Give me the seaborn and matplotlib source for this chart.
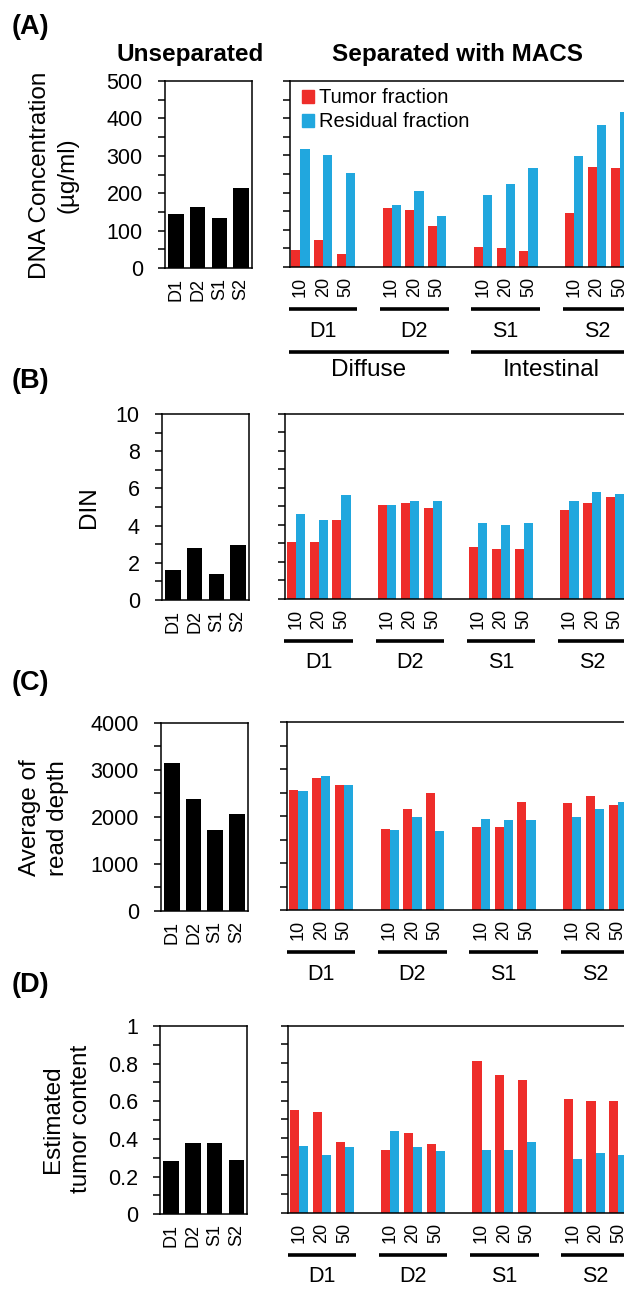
import numpy as np
import pandas as pd
import matplotlib
matplotlib.use('Agg')
import matplotlib.pyplot as plt
import seaborn as sns
from matplotlib.patches import Patch
from matplotlib.ticker import MultipleLocator, FuncFormatter
from matplotlib.transforms import offset_copy

W, H, DPI = 624, 1291, 100

# data
samples = ['D1', 'D2', 'S1', 'S2']
concentrations = ['10', '20', '50']
fractions = ['Tumor fraction', 'Residual fraction']

dna_unsep = [145, 163, 133, 213]
dna_tumor = [47, 73, 36, 158, 152, 110, 53, 52, 43, 146, 268, 267]
dna_resid = [317, 300, 254, 166, 204, 136, 193, 222, 266, 298, 382, 416]

din_unsep = [1.63, 2.81, 1.42, 2.97]
din_tumor = [3.08, 3.08, 4.29, 5.08, 5.19, 4.90, 2.79, 2.68, 2.68, 4.79, 5.19, 5.50]
din_resid = [4.59, 4.29, 5.60, 5.08, 5.30, 5.30, 4.09, 3.98, 4.09, 5.30, 5.78, 5.69]

depth_unsep = [3143, 2386, 1720, 2053]
depth_tumor = [2546, 2809, 2660, 1723, 2142, 2489, 1759, 1766, 2291, 2270, 2426, 2234]
depth_resid = [2525, 2844, 2660, 1702, 1986, 1674, 1936, 1908, 1922, 1979, 2142, 2298]

tc_unsep = [0.281, 0.381, 0.381, 0.290]
tc_tumor = [0.549, 0.538, 0.378, 0.337, 0.428, 0.367, 0.809, 0.738, 0.708, 0.608, 0.599, 0.599]
tc_resid = [0.358, 0.308, 0.349, 0.439, 0.349, 0.330, 0.337, 0.337, 0.378, 0.287, 0.317, 0.307]

RED = '#EE2D2A'
BLUE = '#21A7DE'
SLOT = 22.8  # px per concentration slot in the right panels

sns.set_style('ticks')
plt.rcParams['font.family'] = ['Liberation Sans', 'DejaVu Sans']
for key in ['text.color', 'axes.labelcolor', 'axes.edgecolor', 'xtick.color', 'ytick.color']:
    plt.rcParams[key] = 'black'
plt.rcParams['axes.linewidth'] = 1.1
plt.rcParams['xtick.major.size'] = 0
plt.rcParams['ytick.major.size'] = 5
plt.rcParams['ytick.minor.size'] = 5
plt.rcParams['ytick.major.width'] = 1.1
plt.rcParams['ytick.minor.width'] = 1.1
plt.rcParams['ytick.minor.visible'] = True

panels = [
    dict(letter='(A)', letter_y=27, ylabel='DNA Concentration\n(µg/ml)', label_xy=(54, 175),
         ymax=500, major=100, minor=50, unsep=dna_unsep, tumor=dna_tumor, resid=dna_resid,
         left=(165, 81, 252, 268), right=(290, 81, 267), red0=291.3),
    dict(letter='(B)', letter_y=381, ylabel='DIN', label_xy=(89, 507),
         ymax=10, major=2, minor=1, unsep=din_unsep, tumor=din_tumor, resid=din_resid,
         left=(162, 414, 249, 600), right=(285, 414, 599), red0=286.7),
    dict(letter='(C)', letter_y=683, ylabel='Average of\nread depth', label_xy=(44, 818),
         ymax=4000, major=1000, minor=500, unsep=depth_unsep, tumor=depth_tumor, resid=depth_resid,
         left=(161, 722.7, 247.7, 911), right=(287.3, 722, 910), red0=289.3),
    dict(letter='(D)', letter_y=985, ylabel='Estimated\ntumor content', label_xy=(67, 1119),
         ymax=1, major=0.2, minor=0.1, unsep=tc_unsep, tumor=tc_tumor, resid=tc_resid,
         left=(160, 1026, 247.3, 1214.3), right=(287.7, 1025.7, 1212.7), red0=290.0),
]

fig = plt.figure(figsize=(W / DPI, H / DPI), dpi=DPI)


def add_px_axes(l, t, r, b):
    return fig.add_axes([l / W, 1 - b / H, (r - l) / W, (b - t) / H])


def below(ax, px):
    # x in data units, y offset in pixels below the bottom spine
    return offset_copy(ax.get_xaxis_transform(), fig=fig, x=0, y=-px, units='dots')


fmt = FuncFormatter(lambda v, p: f'{v:g}')
positions = [4 * g + i for g in range(len(samples)) for i in range(len(concentrations))]

for p in panels:
    # unseparated samples
    ax = add_px_axes(*p['left'])
    sns.barplot(x=samples, y=p['unsep'], color='black', width=0.72, saturation=1,
                errorbar=None, linewidth=0, ax=ax)
    ax.set_xlim(-0.5, 3.5)
    ax.set_ylim(0, p['ymax'])
    ax.yaxis.set_major_locator(MultipleLocator(p['major']))
    ax.yaxis.set_minor_locator(MultipleLocator(p['minor']))
    ax.yaxis.set_major_formatter(fmt)
    ax.tick_params(axis='y', labelsize=15.5, pad=11)
    ax.tick_params(axis='x', labelsize=13, pad=7, rotation=90)
    ax.set_xlabel('')
    ax.set_ylabel('')

    # MACS separated fractions
    l, t, b = p['right']
    ax2 = add_px_axes(l, t, W, b)
    df = pd.DataFrame({
        'pos': positions * 2,
        'fraction': [fractions[0]] * len(positions) + [fractions[1]] * len(positions),
        'value': list(p['tumor']) + list(p['resid']),
    })
    sns.barplot(data=df, x='pos', y='value', hue='fraction', hue_order=fractions,
                palette=[RED, BLUE], native_scale=True, width=0.8, saturation=1,
                errorbar=None, linewidth=0, legend=False, ax=ax2)
    x_left = -0.4 - (p['red0'] - l) / SLOT
    ax2.set_xlim(x_left, x_left + (W - l) / SLOT)
    ax2.set_ylim(0, p['ymax'])
    ax2.yaxis.set_major_locator(MultipleLocator(p['major']))
    ax2.yaxis.set_minor_locator(MultipleLocator(p['minor']))
    ax2.tick_params(axis='y', labelleft=False)
    ax2.set_xticks(positions)
    ax2.set_xticklabels(concentrations * len(samples))
    ax2.tick_params(axis='x', labelsize=13, pad=7, rotation=90)
    ax2.spines['right'].set_visible(False)
    ax2.set_xlabel('')
    ax2.set_ylabel('')

    for g, s in enumerate(samples):
        ax2.plot([4 * g - 0.5, 4 * g + 2.5], [0, 0], transform=below(ax2, 42),
                 color='black', lw=2.6, solid_capstyle='butt', clip_on=False)
        ax2.text(4 * g + 1, 0, s, transform=below(ax2, 64), ha='center', va='center',
                 fontsize=15.5)

    fig.text(12 / W, 1 - p['letter_y'] / H, p['letter'], fontsize=19.5, fontweight='bold',
             ha='left', va='center')
    fig.text(p['label_xy'][0] / W, 1 - p['label_xy'][1] / H, p['ylabel'], fontsize=17.5,
             rotation=90, ha='center', va='center', multialignment='center', linespacing=1.3)

    if p['letter'] == '(A)':
        for (x0, x1), name, xc in [((-0.5, 6.5), 'Diffuse', 3), ((7.5, 15.5), 'Intestinal', 11)]:
            ax2.plot([x0, x1], [0, 0], transform=below(ax2, 85), color='black', lw=2.6,
                     solid_capstyle='butt', clip_on=False)
            ax2.text(xc, 0, name, transform=below(ax2, 103), ha='center', va='center',
                     fontsize=17.5)
        handles = [Patch(color=RED, label=fractions[0]), Patch(color=BLUE, label=fractions[1])]
        ax2.legend(handles=handles, loc='upper left', bbox_to_anchor=(0.035, 0.96),
                   frameon=False, fontsize=14.5, handlelength=0.6, handleheight=0.6,
                   handletextpad=0.25, labelspacing=0.25, borderpad=0, borderaxespad=0)

fig.text(190 / W, 1 - 55 / H, 'Unseparated', fontsize=17.5, fontweight='bold',
         ha='center', va='center')
fig.text(458 / W, 1 - 55 / H, 'Separated with MACS', fontsize=17.5, fontweight='bold',
         ha='center', va='center')

fig.savefig('out.png', dpi=DPI)
